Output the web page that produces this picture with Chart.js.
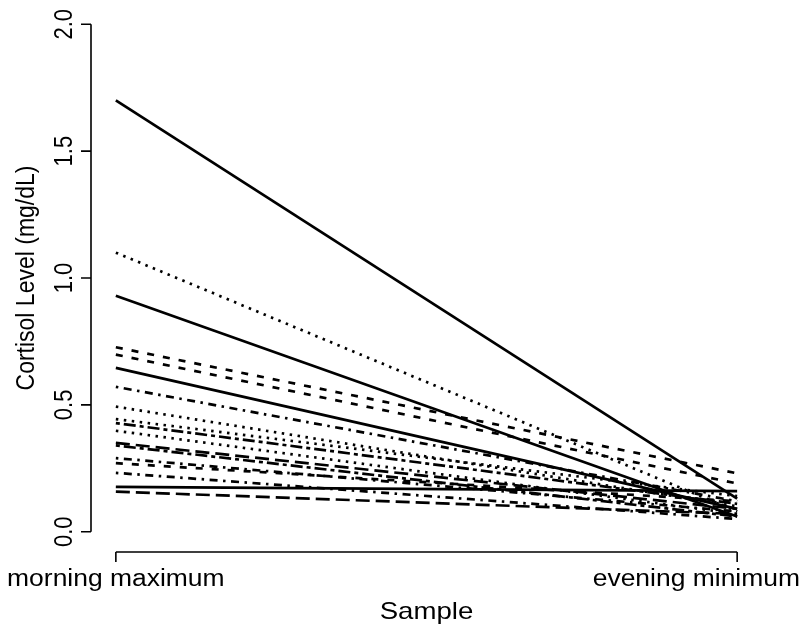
<!DOCTYPE html>
<html>
<head>
<meta charset="utf-8">
<script src="https://cdn.jsdelivr.net/npm/chart.js@4.4.1/dist/chart.umd.min.js"></script>
<style>
  html, body { margin: 0; padding: 0; background: #fff; }
  #wrap { width: 804px; height: 633px; }
</style>
</head>
<body>
<div id="wrap"><canvas id="cortisol" width="804" height="633"></canvas></div>
<script>
// --- data (one line per subject) ---
const categories = ['morning maximum', 'evening minimum'];
const morningValues = [1.70, 1.10, 0.93, 0.727, 0.698, 0.646, 0.571, 0.493, 0.444, 0.428, 0.398, 0.350, 0.340, 0.290, 0.270, 0.232, 0.177, 0.158];
const eveningValues = [0.13, 0.08, 0.06, 0.230, 0.190, 0.090, 0.120, 0.100, 0.140, 0.110, 0.070, 0.090, 0.060, 0.080, 0.120, 0.050, 0.160, 0.070];
const yTicks = [0.0, 0.5, 1.0, 1.5, 2.0];
const yTitle = 'Cortisol Level (mg/dL)';
const xTitle = 'Sample';

// R-ish line types, one per subject (kept apart from the data)
const lineTypes = ['solid', 'dotted', 'solid', 'dashed', 'dashed', 'solid', 'dotdash', 'dotted', 'dotted',
  'twodash', 'dotted', 'longdash', 'twodash', 'dotdash', 'dashed', 'dotdash', 'solid', 'longdash'];
const dashes = {
  solid: [],
  dashed: [7, 9],
  dotted: [2.5, 5.5],
  dotdash: [2.5, 5.5, 8, 5.5],
  longdash: [14, 6],
  twodash: [4, 4, 12, 4]
};

const FONT = '"Liberation Sans", Arial, Helvetica, sans-serif';
const STRETCH = 1.15; // the figure's text is a bit wider than it is tall

function wideText (ctx, str, x, y, rotate) {
  ctx.save();
  ctx.translate(x, y);
  ctx.scale(STRETCH, 1);
  if (rotate) ctx.rotate(-Math.PI / 2);
  ctx.fillText(str, 0, 0);
  ctx.restore();
}

// draw base-graphics style axes (line only across the tick range, ticks outward)
const rAxes = {
  id: 'rAxes',
  afterDraw (chart) {
    const { ctx, scales: { x, y } } = chart;
    const left = chart.chartArea.left, bottom = chart.chartArea.bottom;
    ctx.save();
    ctx.strokeStyle = '#000';
    ctx.fillStyle = '#000';
    ctx.lineWidth = 1.6;

    // y axis
    const yTop = y.getPixelForValue(yTicks[yTicks.length - 1]);
    const yBot = y.getPixelForValue(yTicks[0]);
    ctx.beginPath();
    ctx.moveTo(left, yTop); ctx.lineTo(left, yBot);
    yTicks.forEach(v => {
      const py = y.getPixelForValue(v);
      ctx.moveTo(left, py); ctx.lineTo(left - 10, py);
    });
    ctx.stroke();

    ctx.font = '22px ' + FONT;
    ctx.textAlign = 'center';
    ctx.textBaseline = 'middle';
    yTicks.forEach(v => wideText(ctx, v.toFixed(1), left - 26, y.getPixelForValue(v), true));
    ctx.font = '23px ' + FONT;
    wideText(ctx, yTitle, 27, (chart.chartArea.top + bottom) / 2, true);

    // x axis
    const xL = x.getPixelForValue(0), xR = x.getPixelForValue(categories.length - 1);
    ctx.beginPath();
    ctx.moveTo(xL, bottom); ctx.lineTo(xR, bottom);
    categories.forEach((c, i) => {
      const px = x.getPixelForValue(i);
      ctx.moveTo(px, bottom); ctx.lineTo(px, bottom + 10);
    });
    ctx.stroke();

    ctx.font = '23px ' + FONT;
    categories.forEach((c, i) => {
      const px = x.getPixelForValue(i);
      const w = ctx.measureText(c).width * STRETCH;
      // keep label on the canvas
      let cx = Math.min(px, chart.width - 4 - w / 2);
      cx = Math.max(cx, 2 + w / 2);
      wideText(ctx, c, cx, bottom + 28, false);
    });
    ctx.font = '24px ' + FONT;
    wideText(ctx, xTitle, (left + chart.chartArea.right) / 2, bottom + 60, false);
    ctx.restore();
  }
};

const datasets = morningValues.map((m, i) => ({
  label: 'subject ' + (i + 1),
  data: [{ x: 0, y: m }, { x: 1, y: eveningValues[i] }],
  borderColor: '#000',
  borderWidth: 2.7,
  borderDash: dashes[lineTypes[i]],
  borderCapStyle: 'butt',
  pointRadius: 0,
  fill: false,
  tension: 0
}));

new Chart(document.getElementById('cortisol'), {
  type: 'line',
  data: { datasets },
  options: {
    responsive: false,
    animation: false,
    events: [],
    layout: { padding: { left: 91, right: 42, top: 4, bottom: 81 } },
    plugins: { legend: { display: false }, tooltip: { enabled: false } },
    scales: {
      x: { type: 'linear', min: -0.04, max: 1.04, display: false },
      y: { type: 'linear', min: -0.08, max: 2.08, display: false }
    }
  },
  plugins: [rAxes]
});
</script>
</body>
</html>
